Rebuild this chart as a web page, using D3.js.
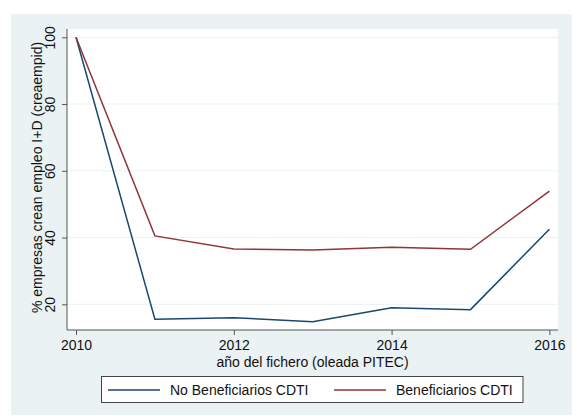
<!DOCTYPE html>
<html lang="es">
<head>
<meta charset="UTF-8" />
<script src="https://d3js.org/d3.v7.min.js"></script>
<style>
  body { margin: 0; background: #fff; }
  text { font-family: "Liberation Sans", Arial, sans-serif; fill: #111; }
</style>
</head>
<body>
<div id="chart"></div>
<script>
  const years = [2010, 2011, 2012, 2013, 2014, 2015, 2016];
  const noBenef = [100, 15.5, 16.0, 14.8, 19.0, 18.4, 42.5];
  const benef = [100, 40.5, 36.6, 36.3, 37.1, 36.5, 53.9];
  const xTicks = [2010, 2012, 2014, 2016];
  const yTicks = [20, 40, 60, 80, 100];
  const seriesNames = ["No Beneficiarios CDTI", "Beneficiarios CDTI"];
  const colors = ["#1a476f", "#90353b"];

  const W = 577, H = 416;
  const svg = d3.select("#chart").append("svg").attr("width", W).attr("height", H);

  // outer graph region
  svg.append("rect").attr("x", 11).attr("y", 14).attr("width", 561).attr("height", 401)
    .attr("fill", "#eaf2f3");

  const plot = { left: 67, right: 558, top: 29, bottom: 330 };
  svg.append("rect").attr("x", plot.left).attr("y", plot.top)
    .attr("width", plot.right - plot.left).attr("height", plot.bottom - plot.top)
    .attr("fill", "#fff");

  const x = d3.scaleLinear().domain([2010, 2016]).range([76, 549.4]);
  const y = d3.scaleLinear().domain([20, 100]).range([304.3, 37.3]);

  // gridlines
  svg.append("g").selectAll("line").data(yTicks).join("line")
    .attr("x1", plot.left).attr("x2", plot.right)
    .attr("y1", d => y(d)).attr("y2", d => y(d))
    .attr("stroke", "#eaf2f3").attr("stroke-width", 1);

  // axes
  const yAxis = svg.append("g").attr("transform", `translate(${plot.left},0)`)
    .call(d3.axisLeft(y).tickValues(yTicks).tickSize(5).tickSizeOuter(0));
  yAxis.select(".domain").attr("d", `M0,${plot.top}V${plot.bottom}`);
  yAxis.selectAll("line, path").attr("stroke", "#555");
  yAxis.selectAll(".tick text")
    .attr("transform", "rotate(-90)")
    .attr("x", 0).attr("y", -12).attr("dy", 0)
    .attr("text-anchor", "middle")
    .style("font-size", "14px")
    .attr("fill", "#111");

  const xAxis = svg.append("g").attr("transform", `translate(0,${plot.bottom})`)
    .call(d3.axisBottom(x).tickValues(xTicks).tickFormat(d3.format("d")).tickSize(5).tickSizeOuter(0));
  xAxis.select(".domain").attr("d", `M${plot.left},0H${plot.right}`);
  xAxis.selectAll("line, path").attr("stroke", "#555");
  xAxis.selectAll("text").style("font-size", "14px").attr("y", 10).attr("fill", "#111");

  // titles
  svg.append("text").attr("transform", `translate(42,177.5) rotate(-90)`)
    .attr("text-anchor", "middle").style("font-size", "14px")
    .text("% empresas crean empleo I+D (creaempid)");
  svg.append("text").attr("x", (plot.left + plot.right) / 2).attr("y", 366.5)
    .attr("text-anchor", "middle").style("font-size", "14px")
    .text("año del fichero (oleada PITEC)");

  // lines
  const line = d3.line().x((d, i) => x(years[i])).y(d => y(d));
  [noBenef, benef].forEach((s, i) => {
    svg.append("path").datum(s)
      .attr("fill", "none").attr("stroke", colors[i]).attr("stroke-width", 1.5)
      .attr("d", line);
  });

  // legend
  svg.append("rect").attr("x", 101.5).attr("y", 376.5).attr("width", 421.5).attr("height", 26)
    .attr("fill", "#fff").attr("stroke", "#444").attr("stroke-width", 1);
  const legX = [[108, 160, 170], [334, 386, 396]];
  seriesNames.forEach((n, i) => {
    svg.append("line").attr("x1", legX[i][0]).attr("x2", legX[i][1])
      .attr("y1", 390).attr("y2", 390).attr("stroke", colors[i]).attr("stroke-width", 1.5);
    svg.append("text").attr("x", legX[i][2]).attr("y", 395)
      .style("font-size", "14px").text(n);
  });
</script>
</body>
</html>
